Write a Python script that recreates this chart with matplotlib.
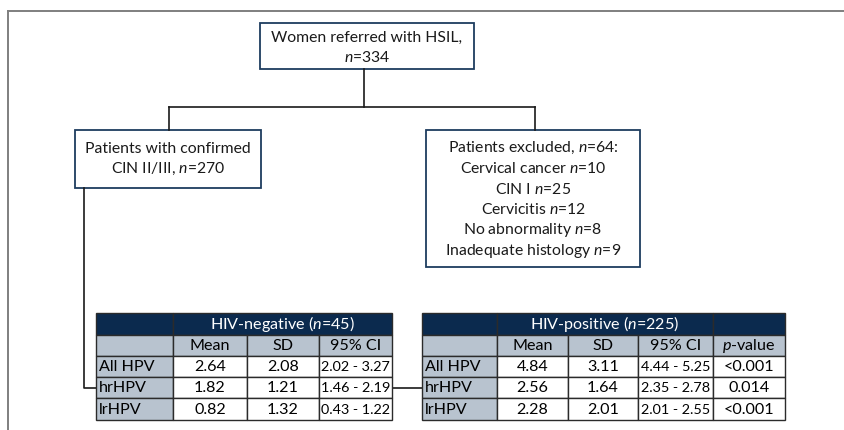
import matplotlib
matplotlib.use("Agg")
import matplotlib.pyplot as plt
from matplotlib.patches import Rectangle

plt.rcParams['font.family'] = ['Lato', 'DejaVu Sans']
plt.rcParams['mathtext.fontset'] = 'custom'
plt.rcParams['mathtext.rm'] = 'Lato'
plt.rcParams['mathtext.it'] = 'Lato:italic'

# ---- data ----
top_box = ["Women referred with HSIL,", r"$\mathit{n}$=334"]
left_box = ["Patients with confirmed", r"CIN II/III, $\mathit{n}$=270"]
right_box = [r"Patients excluded, $\mathit{n}$=64:",
             r"Cervical cancer $\mathit{n}$=10",
             r"CIN I $\mathit{n}$=25",
             r"Cervicitis $\mathit{n}$=12",
             r"No abnormality $\mathit{n}$=8",
             r"Inadequate histology $\mathit{n}$=9"]

row_labels = ["All HPV", "hrHPV", "lrHPV"]
col_labels = ["Mean", "SD", "95% CI"]
neg_title = r"HIV-negative ($\mathit{n}$=45)"
pos_title = r"HIV-positive ($\mathit{n}$=225)"
neg_mean = ["2.64", "1.82", "0.82"]
neg_sd = ["2.08", "1.21", "1.32"]
neg_ci = ["2.02 - 3.27", "1.46 - 2.19", "0.43 - 1.22"]
pos_mean = ["4.84", "2.56", "2.28"]
pos_sd = ["3.11", "1.64", "2.01"]
pos_ci = ["4.44 - 5.25", "2.35 - 2.78", "2.01 - 2.55"]
p_label = r"$\mathit{p}$-value"
p_values = ["<0.001", "0.014", "<0.001"]

DARK = "#0b2a4e"
GRAY = "#b8c3cf"
BOXC = "#1e3d5f"
FS = 11.3
TFS = 11.6
CFS = 10.4

fig = plt.figure(figsize=(8.45, 4.30), dpi=100)
ax = fig.add_axes([0, 0, 1, 1])
ax.set_xlim(0, 845)
ax.set_ylim(430, 0)
ax.axis('off')

# outer frame
ax.plot([8, 845], [11, 11], color="#7f7f7f", lw=1.4)
ax.plot([8, 8], [11, 430], color="#7f7f7f", lw=1.4)

def box(x0, y0, x1, y1, lines, y_first, dy):
    ax.add_patch(Rectangle((x0, y0), x1 - x0, y1 - y0, fill=True, fc="white",
                           ec=BOXC, lw=1.3, zorder=2))
    cx = (x0 + x1) / 2
    for i, t in enumerate(lines):
        ax.text(cx, y_first + i * dy, t, ha='center', va='center',
                fontsize=FS, color="#1a1a1a", zorder=3)

box(260, 23, 474, 69, top_box, 38, 20)
box(75, 130, 261, 188, left_box, 149, 20)
box(426, 130, 640, 267, right_box, 148, 20.6)

LC = "#1a1a1a"
# connectors
ax.plot([364, 364], [69, 107], color=LC, lw=1.2)
ax.plot([169, 535], [107, 107], color=LC, lw=1.2)
ax.plot([169, 169], [107, 130], color=LC, lw=1.2)
ax.plot([535, 535], [107, 130], color=LC, lw=1.2)
ax.plot([84, 84, 96], [188, 388, 388], color=LC, lw=1.2)
ax.plot([392, 422], [388, 388], color=LC, lw=1.2)

rows_y = [313, 335, 356, 377, 398, 420]

def cell(x0, x1, y0, y1, fc, text="", color="black", ha='center', pad=3, fs=TFS):
    ax.add_patch(Rectangle((x0, y0), x1 - x0, y1 - y0, fc=fc, ec="#2b2b2b",
                           lw=1.0, zorder=2))
    if text:
        if ha == 'left':
            tx = x0 + pad
        else:
            tx = (x0 + x1) / 2
        ax.text(tx, (y0 + y1) / 2 + 0.5, text, ha=ha, va='center',
                fontsize=fs, color=color, zorder=3)

def table(cols, title, means, sds, cis, pcol=None):
    y = rows_y
    # header row
    cell(cols[0], cols[1], y[0], y[1], DARK)
    cell(cols[1], cols[4], y[0], y[1], DARK, title, color="white")
    if pcol:
        cell(cols[4], cols[5], y[0], y[1], DARK)
    # sub header
    cell(cols[0], cols[1], y[1], y[2], GRAY)
    for j, lab in enumerate(col_labels):
        cell(cols[1 + j], cols[2 + j], y[1], y[2], GRAY, lab)
    if pcol:
        cell(cols[4], cols[5], y[1], y[2], GRAY, p_label)
    for i in range(3):
        cell(cols[0], cols[1], y[2 + i], y[3 + i], GRAY, row_labels[i], ha='left')
        cell(cols[1], cols[2], y[2 + i], y[3 + i], "white", means[i])
        cell(cols[2], cols[3], y[2 + i], y[3 + i], "white", sds[i])
        cell(cols[3], cols[4], y[2 + i], y[3 + i], "white", cis[i], fs=CFS)
        if pcol:
            cell(cols[4], cols[5], y[2 + i], y[3 + i], "white", pcol[i])

table([96, 173, 247, 319, 392], neg_title, neg_mean, neg_sd, neg_ci)
table([422, 497, 568, 638, 713, 785], pos_title, pos_mean, pos_sd, pos_ci, p_values)

fig.savefig("out.png", dpi=100)
